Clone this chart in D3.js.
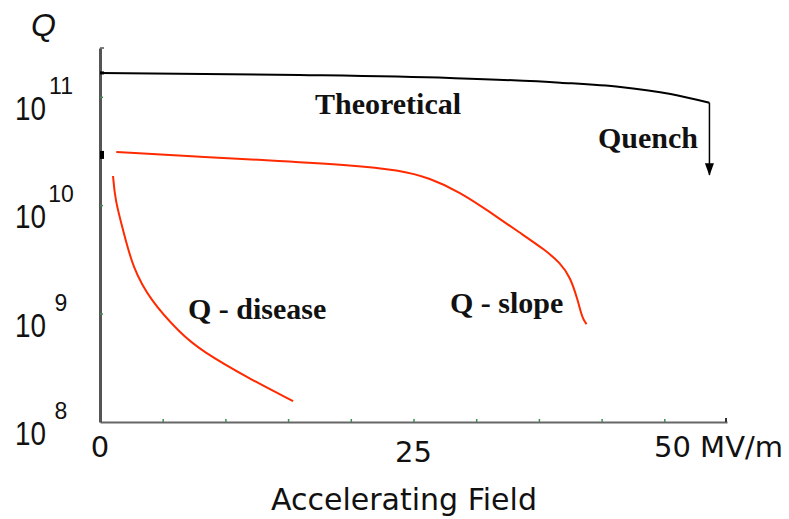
<!DOCTYPE html>
<html>
<head>
<meta charset="utf-8">
<script src="https://cdn.jsdelivr.net/npm/d3@7/dist/d3.min.js"></script>
<style>
  html, body { margin: 0; padding: 0; background: #fff; }
  svg { display: block; }
</style>
</head>
<body>
<svg id="chart" width="789" height="519"></svg>
<script>
// Accelerating field (MV/m) and quality factor Q for each curve
const theoreticalField = [0, 15.9, 27.9, 36.7, 41.5, 45.5, 48.6];
const theoreticalQ     = [1.66e11, 1.59e11, 1.49e11, 1.35e11, 1.23e11, 1.06e11, 8.8e10];

const quenchField = 48.6;
const quenchQ     = 1.9e10;

const slopeField = [1.3, 8.0, 14.4, 19.9, 23.9, 26.3, 28.7, 31.1, 33.5, 35.5, 36.7, 37.5, 38.1, 38.4, 38.6, 38.8];
const slopeQ     = [3.1e10, 2.79e10, 2.56e10, 2.35e10, 2.11e10, 1.78e10, 1.32e10, 8.65e9, 5.55e9, 3.86e9, 2.93e9, 2.18e9, 1.33e9, 9.7e8, 8.6e8, 8.0e8];

const diseaseField = [1.04, 1.2, 1.9, 2.6, 4.0, 6.4, 8.0, 12.1, 15.4];
const diseaseQ     = [1.86e10, 1.12e10, 5.55e9, 2.69e9, 1.33e9, 6.6e8, 4.6e8, 2.44e8, 1.56e8];

const xTickLabels = ["0", "25", "50 MV/m"];
const xTickValues = [0, 25, 50];
const yTickExponents = ["11", "10", "9", "8"];
const yTickValues = [1e11, 1e10, 1e9, 1e8];

const svg = d3.select("#chart");

const x = d3.scaleLinear().domain([0, 50]).range([100, 727]);
const y = d3.scaleLog().domain([1e8, Math.pow(10, 11.45)]).range([422, 48]);

const zip = (a, b) => a.map((v, i) => [v, b[i]]);
const line = d3.line().x(d => x(d[0])).y(d => y(d[1])).curve(d3.curveMonotoneX);
const smooth = d3.line().x(d => x(d[0])).y(d => y(d[1])).curve(d3.curveBasis);

// arrowhead for the quench drop
svg.append("defs").append("marker")
  .attr("id", "arrow")
  .attr("viewBox", "0 0 14 10")
  .attr("refX", 13).attr("refY", 5)
  .attr("markerWidth", 13).attr("markerHeight", 9)
  .attr("markerUnits", "userSpaceOnUse")
  .attr("orient", "auto")
  .append("path").attr("d", "M0,0 L14,5 L0,10 Z").attr("fill", "#000");

// x axis with small green minor ticks pointing up
const xAxis = svg.append("g")
  .attr("transform", `translate(0,${y(1e8)})`)
  .call(d3.axisBottom(x).tickValues(d3.range(5, 50, 5)).tickSize(-3).tickFormat("").tickSizeOuter(0));
xAxis.select(".domain").attr("stroke", "#666").attr("stroke-width", 2.2);
xAxis.selectAll(".tick line").attr("stroke", "#3f8f55").attr("stroke-width", 1.5);

// y axis with green decade ticks pointing right
const yAxis = svg.append("g")
  .attr("transform", `translate(${x(0)},0)`)
  .call(d3.axisLeft(y).tickValues([1e9, 1e10, 1e11]).tickSize(-3).tickFormat("").tickSizeOuter(0));
yAxis.select(".domain").attr("stroke", "#555").attr("stroke-width", 3);
yAxis.selectAll(".tick line").attr("stroke", "#3f8f55").attr("stroke-width", 1.5);

// axis end caps
const yTop = y.range()[1];
svg.append("line").attr("x1", x(0)).attr("x2", x(0) + 4).attr("y1", yTop).attr("y2", yTop)
  .attr("stroke", "#555").attr("stroke-width", 1.5);
svg.append("line").attr("x1", x(50) - 1).attr("x2", x(50) - 1).attr("y1", y(1e8)).attr("y2", y(1e8) - 4)
  .attr("stroke", "#333").attr("stroke-width", 2);

// marks on the Q axis where the measured and theoretical curves begin
svg.append("rect").attr("x", x(0)).attr("y", y(theoreticalQ[0]) - 1.5).attr("width", 4).attr("height", 3).attr("fill", "#000");
svg.append("rect").attr("x", x(0)).attr("y", y(slopeQ[0]) - 1).attr("width", 4).attr("height", 8).attr("fill", "#000");

// theoretical curve and quench arrow
svg.append("path").attr("d", line(zip(theoreticalField, theoreticalQ)))
  .attr("fill", "none").attr("stroke", "#000").attr("stroke-width", 2);
svg.append("line")
  .attr("x1", x(quenchField)).attr("x2", x(quenchField))
  .attr("y1", y(theoreticalQ[theoreticalQ.length - 1])).attr("y2", y(quenchQ))
  .attr("stroke", "#000").attr("stroke-width", 1.5)
  .attr("marker-end", "url(#arrow)");

// measured curves
svg.append("path").attr("d", smooth(zip(slopeField, slopeQ)))
  .attr("fill", "none").attr("stroke", "#ff2a00").attr("stroke-width", 2);
svg.append("path").attr("d", smooth(zip(diseaseField, diseaseQ)))
  .attr("fill", "none").attr("stroke", "#ff2a00").attr("stroke-width", 2);

// curve annotations
const serif = "'Liberation Serif', 'Times New Roman', serif";
[
  { text: "Theoretical", x: 315, y: 114 },
  { text: "Quench", x: 598, y: 148 },
  { text: "Q - disease", x: 188, y: 319 },
  { text: "Q - slope", x: 450, y: 313 }
].forEach(a => {
  svg.append("text").attr("x", a.x).attr("y", a.y)
    .attr("font-family", serif).attr("font-weight", "bold").attr("font-size", 30)
    .attr("fill", "#111").text(a.text);
});

// x tick labels
const sans = "'DejaVu Sans', Verdana, sans-serif";
xTickValues.forEach((v, i) => {
  const last = i === xTickValues.length - 1;
  svg.append("text")
    .attr("x", last ? x(v) + 56 : x(v))
    .attr("y", i === 1 ? 462 : 457)
    .attr("text-anchor", last ? "end" : "middle")
    .attr("font-family", sans).attr("font-size", 29).attr("fill", "#111")
    .text(xTickLabels[i]);
});

svg.append("text").attr("x", 404).attr("y", 510).attr("text-anchor", "middle")
  .attr("font-family", sans).attr("font-size", 30).attr("fill", "#111")
  .text("Accelerating Field");

// y tick labels as powers of ten
const arial = "'Liberation Sans', Arial, sans-serif";
yTickValues.forEach((v, i) => {
  const base = y(v) + 23;
  svg.append("text").attr("x", 15).attr("y", base)
    .attr("font-family", arial).attr("font-size", 34).attr("fill", "#111")
    .attr("textLength", 31).attr("lengthAdjust", "spacingAndGlyphs")
    .text("10");
  svg.append("text").attr("x", 61).attr("y", base - 26).attr("text-anchor", "middle")
    .attr("font-family", arial).attr("font-size", 23).attr("fill", "#111")
    .text(yTickExponents[i]);
});

svg.append("text").attr("x", 31).attr("y", 36)
  .attr("font-family", arial).attr("font-style", "italic").attr("font-size", 32).attr("fill", "#111")
  .text("Q");
</script>
</body>
</html>
